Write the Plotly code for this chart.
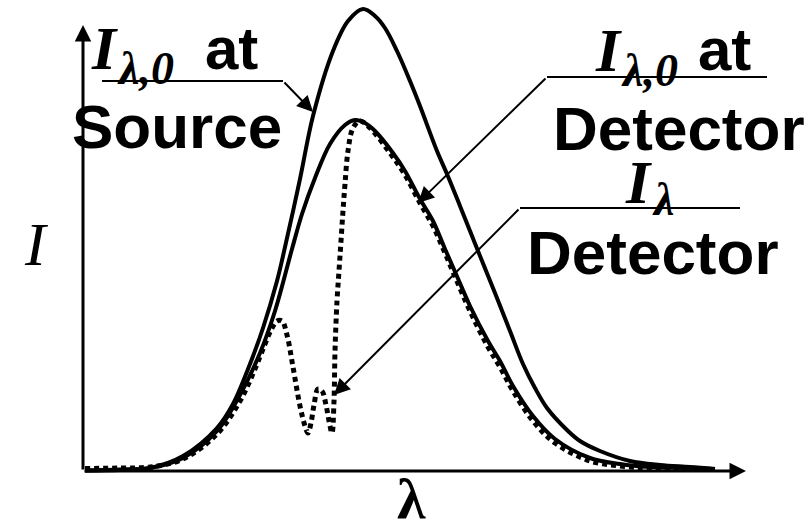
import plotly.graph_objects as go

# values (wavelength in arbitrary units, intensity above the baseline)
src_lam = [85, 120, 150, 183, 217, 233, 250, 263, 277, 283, 300, 313, 333, 348, 363,
           375, 385, 397, 410, 420, 437, 447, 460, 478, 495, 510, 523, 535, 547, 568,
           580, 600, 630, 660, 690, 715]
src_int = [0.5, 1, 3, 15, 43, 67, 107, 143, 190, 215, 292, 355, 420, 450, 462,
           455, 443, 420, 390, 365, 320, 297, 265, 220, 178, 140, 107, 83, 63, 40,
           30, 20, 10, 6, 4, 2]

det_lam = [85, 120, 150, 183, 217, 240, 260, 275, 292, 302, 315, 330, 345, 355, 365,
           375, 393, 405, 420, 433, 445, 456, 470, 488, 500, 513, 533, 555, 590, 620,
           650, 690, 715]
det_int = [0.5, 1.5, 3, 13, 40, 76, 118, 160, 222, 257, 293, 327, 346, 351, 348,
           340, 318, 300, 272, 250, 222, 197, 165, 130, 110, 85, 55, 32, 13, 7,
           4, 3, 2]

abs_lam = [85, 120, 150, 183, 217, 240, 255, 265, 272, 277, 282, 287, 293, 300, 305,
           308, 311, 314, 318, 322, 326, 330, 332, 334, 335, 337, 339, 341, 343, 345,
           348, 353, 360, 370, 390, 405, 420, 433, 445, 456, 470, 488, 500, 513, 533,
           555, 590, 620, 650, 690, 715]
abs_int = [2.5, 3, 4, 12, 37, 70, 102, 127, 143, 150, 150, 136, 104, 65, 45,
           38, 48, 66, 82, 80, 66, 45, 38, 70, 120, 170, 200, 230, 260, 287,
           320, 343, 350, 343, 318, 296, 268, 245, 218, 192, 160, 124, 104, 80, 50,
           28, 10, 5, 3, 2, 1.5]

SANS = "Liberation Sans, Arial, sans-serif"
SERIF = "Liberation Serif, Times New Roman, serif"
W, H = 812, 529
BASE = 471  # pixel row of the wavelength axis


def Y(py):
    """pixel row -> intensity units"""
    return BASE - py


def label(px, py, text, family, size, xanchor="left", bold=True, italic=False):
    return dict(x=px, y=Y(py), xref="x", yref="y", text=text, showarrow=False,
                xanchor=xanchor, yanchor="middle",
                font=dict(family=family, size=size, color="black",
                          weight="bold" if bold else "normal",
                          style="italic" if italic else "normal"))


def arrow(x, y, ax, ay, width, size):
    return dict(x=x, y=y, ax=ax, ay=ay, xref="x", yref="y", axref="x", ayref="y",
                text="", showarrow=True, arrowhead=2, arrowsize=size,
                arrowwidth=width, arrowcolor="black")


fig = go.Figure()
fig.add_trace(go.Scatter(x=src_lam, y=src_int, mode="lines", line_shape="spline",
                         line=dict(color="black", width=4)))
fig.add_trace(go.Scatter(x=det_lam, y=det_int, mode="lines", line_shape="spline",
                         line=dict(color="black", width=4)))
fig.add_trace(go.Scatter(x=abs_lam, y=abs_int, mode="lines", line_shape="spline",
                         line=dict(color="black", width=5, dash="5px,4px")))

annotations = [
    # axes
    arrow(746, 0, 83, 0, 3, 1.1),
    arrow(83, Y(25), 83, 0, 3, 1.1),
    # leader arrows
    arrow(313, Y(112), 283, Y(81), 2, 1.6),
    arrow(418, Y(203), 547, Y(77), 2, 1.6),
    arrow(334, Y(395), 520, Y(208), 2, 1.6),
    # source label
    label(89, 48, "I", SERIF, 62, italic=True),
    label(115, 68, "λ,0", SERIF, 46, italic=True),
    label(203, 48, "at", SANS, 60),
    label(177, 126, "Source", SANS, 62, xanchor="center"),
    # detector label
    label(593, 50, "I", SERIF, 62, italic=True),
    label(619, 70, "λ,0", SERIF, 46, italic=True),
    label(696, 49, "at", SANS, 60),
    label(679, 128, "Detector", SANS, 62, xanchor="center"),
    # absorbed label
    label(623, 182, "I", SERIF, 62, italic=True),
    label(650, 199, "λ", SERIF, 46, italic=True),
    label(653, 252, "Detector", SANS, 62, xanchor="center"),
    # axis titles
    label(36, 244, "I", SERIF, 62, xanchor="center", bold=False, italic=True),
    label(411, 498, "λ", SERIF, 58, xanchor="center"),
]

shapes = [
    dict(type="line", x0=102, x1=283, y0=Y(81), y1=Y(81), xref="x", yref="y",
         line=dict(color="black", width=2)),
    dict(type="line", x0=547, x1=767, y0=Y(77), y1=Y(77), xref="x", yref="y",
         line=dict(color="black", width=2)),
    dict(type="line", x0=520, x1=740, y0=Y(208), y1=Y(208), xref="x", yref="y",
         line=dict(color="black", width=2)),
]

fig.update_layout(
    width=W, height=H,
    margin=dict(l=0, r=0, t=0, b=0, pad=0),
    paper_bgcolor="white", plot_bgcolor="white",
    showlegend=False,
    xaxis=dict(range=[0, W], visible=False, fixedrange=True),
    yaxis=dict(range=[BASE - H, BASE], visible=False, fixedrange=True),
    annotations=annotations,
    shapes=shapes,
)

# the page's default body margin would push the figure 8px off the window
fig.write_html("out.html", config={"displayModeBar": False},
               post_script="document.body.style.margin = '0';")
